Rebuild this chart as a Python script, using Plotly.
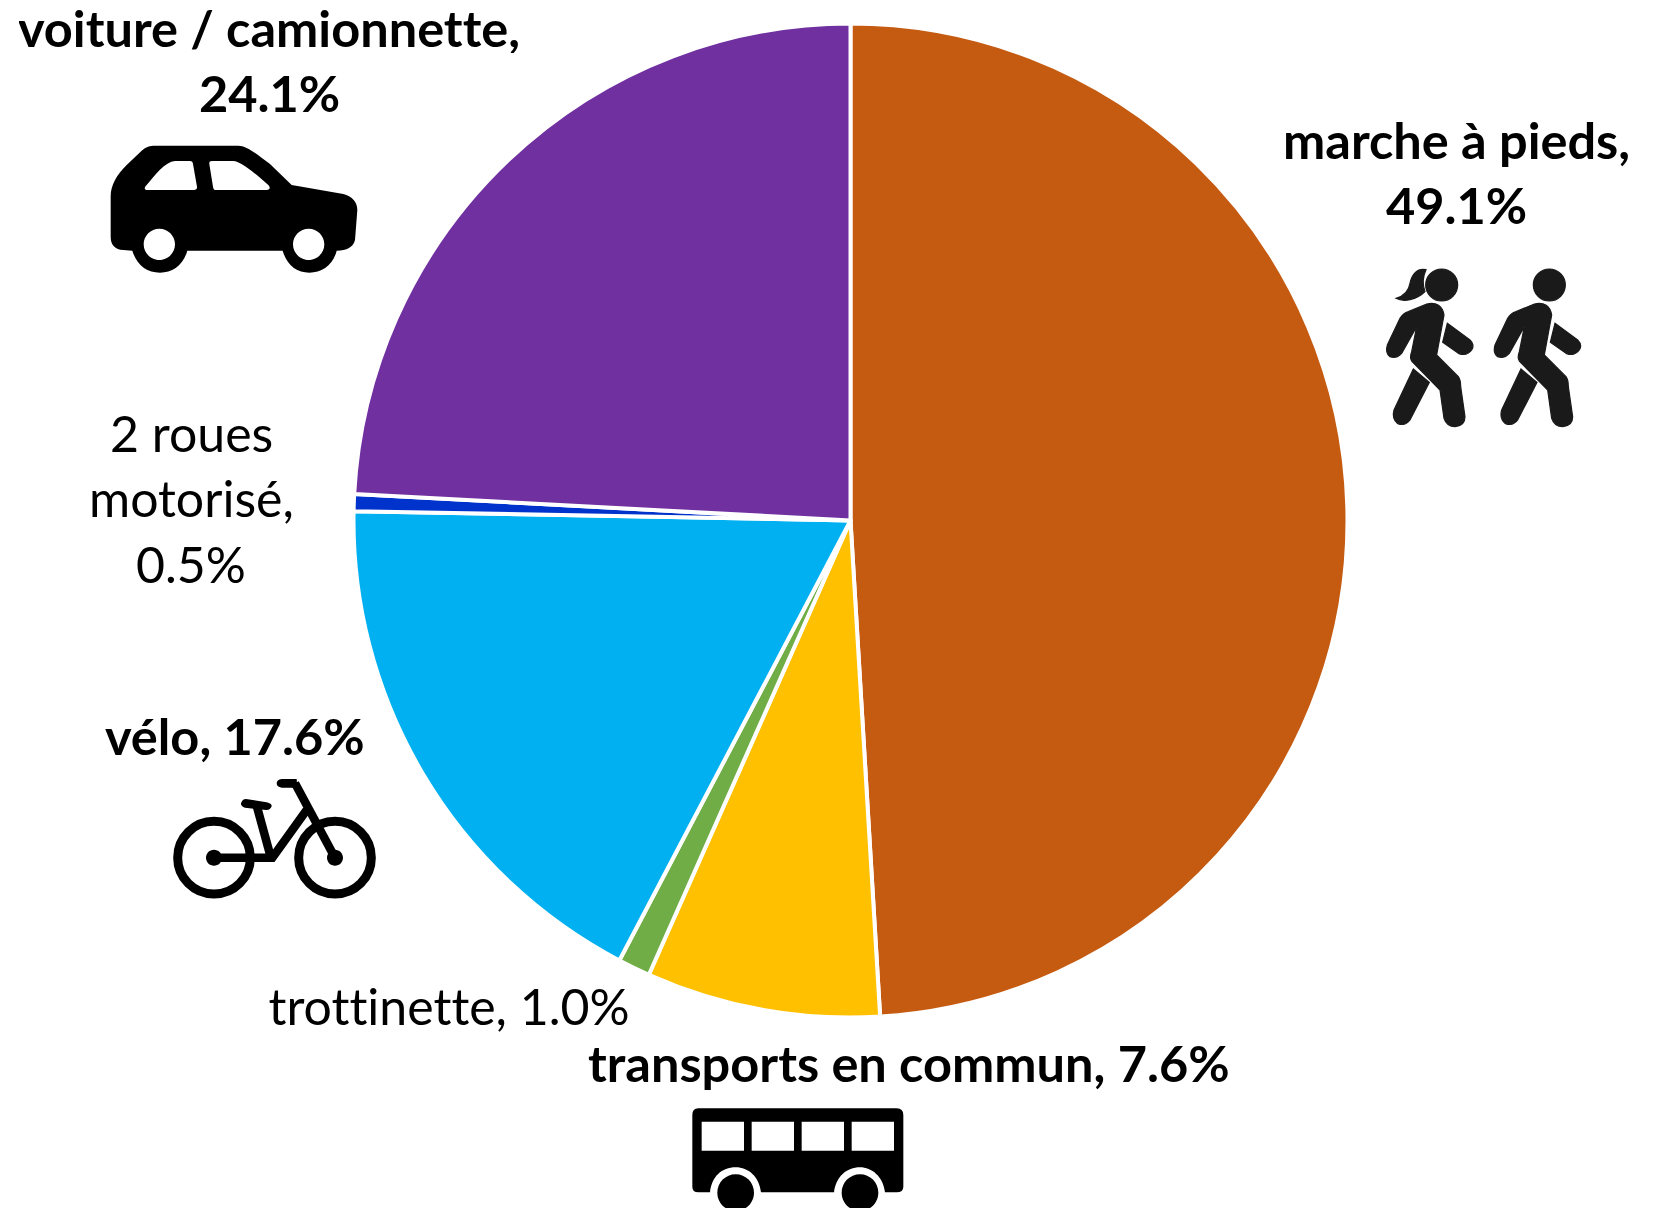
import re
import plotly.graph_objects as go

labels = ["marche à pieds", "transports en commun", "trottinette", "vélo", "2 roues motorisé", "voiture / camionnette"]
values = [49.05, 7.6, 1.05, 17.6, 0.55, 24.15]
colors = ["#C55A11", "#FFC000", "#70AD47", "#00B0F0", "#0033CC", "#7030A0"]

W, H = 1658, 1208
CX, CY, R = 850.5, 520.5, 497

# label layout: text lines, x centre, y centre of each line, bold
label_lines = [
    (["marche à pieds,", "49.1%"], 1456, [139, 204], True),
    (["transports en commun, 7.6%"], 909, [1062], True),
    (["trottinette, 1.0%"], 449, [1006], False),
    (["vélo, 17.6%"], 235, [735], True),
    (["2 roues", "motorisé,", "0.5%"], 191, [433, 498, 564], False),
    (["voiture / camionnette,", "24.1%"], 269, [27, 92], True),
]


def T(path, ox, oy):
    """Map a path drawn in 3x crop units to page pixels."""
    out, i = [], 0
    for tok in re.findall(r"[A-Za-z]|-?\d+\.?\d*", path):
        if tok.isalpha():
            out.append(tok)
        else:
            out.append(f"{(ox if i % 2 == 0 else oy) + float(tok) / 3:.2f}")
            i += 1
    return " ".join(out)


def circ(cx, cy, r):
    k = 0.5523 * r
    return (f"M {cx-r},{cy} C {cx-r},{cy-k} {cx-k},{cy-r} {cx},{cy-r} "
            f"C {cx+k},{cy-r} {cx+r},{cy-k} {cx+r},{cy} "
            f"C {cx+r},{cy+k} {cx+k},{cy+r} {cx},{cy+r} "
            f"C {cx-k},{cy+r} {cx-r},{cy+k} {cx-r},{cy} Z ")


car = ("M 62,200 C 62,165 80,135 110,105 L 155,62 C 168,50 180,47 195,47 L 445,47 C 470,47 500,72 540,102 L 605,165 "
       "L 760,192 C 785,198 802,215 802,240 L 795,330 C 790,352 770,362 740,362 "
       "C 730,405 695,428 658,428 C 620,428 590,405 578,362 L 292,362 "
       "C 280,405 248,428 210,428 C 170,428 140,405 127,362 L 100,360 C 75,358 62,345 62,320 Z "
       "M 172,180 C 162,180 162,172 170,165 C 195,135 225,95 255,93 L 300,93 C 306,93 308,97 309,102 "
       "L 321,170 C 322,177 318,180 312,180 Z "
       "M 378,180 C 372,180 370,177 369,170 L 358,102 C 357,96 360,93 366,93 L 430,93 "
       "C 450,93 490,125 535,165 C 542,172 540,180 530,180 Z "
       + circ(208, 343, 47) + circ(656, 343, 47))

bus = ("M 55,55 L 650,55 Q 670,55 670,75 L 670,290 Q 670,307 650,307 L 615,307 "
       "C 610,260 575,232 540,232 C 500,232 468,260 462,307 L 243,307 C 238,260 205,232 167,232 "
       "C 125,232 95,260 90,307 L 55,307 Q 37,307 37,290 L 37,75 Q 37,55 55,55 Z "
       "M 65,95 L 192,95 L 192,182 L 65,182 Z M 215,95 L 342,95 L 342,182 L 215,182 Z "
       "M 365,95 L 492,95 L 492,182 L 365,182 Z M 515,95 L 642,95 L 642,182 L 515,182 Z "
       + circ(167, 308, 55) + circ(540, 308, 55))

walker_body = ("M 170,147 Q 215,138 222,180 L 200,300 L 265,365 Q 272,375 272,395 L 285,485 "
               "Q 285,512 255,515 Q 230,515 222,490 L 210,405 L 125,318 Q 118,308 125,290 L 140,215 "
               "L 95,295 Q 80,312 60,305 Q 45,295 52,270 L 90,190 Q 100,175 115,170 Z "
               "M 232,205 L 300,255 Q 315,270 305,285 Q 290,305 265,295 L 218,262 Z "
               "M 130,342 L 178,382 L 120,495 Q 105,515 82,505 Q 65,490 72,465 Z "
               + circ(215, 90, 48))
ponytail = ("M 168,44 C 140,38 125,60 120,85 C 115,115 95,125 78,130 C 100,142 140,135 165,110 "
            "C 158,90 158,65 168,44 Z")

bike_fill = ("M 365,42 L 410,42 L 412,68 L 365,68 Q 350,66 350,55 Q 350,44 365,42 Z "
             "M 258,102 L 320,112 Q 336,116 335,124 Q 331,136 318,135 L 255,128 Q 242,124 243,115 Q 247,102 258,102 Z "
             + circ(162, 278, 24) + circ(525, 278, 24))
bike_strokes = ["M 162,278 L 337,278 L 440,135", "M 290,122 L 330,268", "M 405,55 L 525,278"]

shapes = []


def fill(path, ox, oy, color="#000000", lw=0):
    shapes.append(dict(type="path", xref="x", yref="y", path=T(path, ox, oy),
                       fillcolor=color, line=dict(width=lw, color=color), layer="above"))


def stroke(path, ox, oy, w):
    shapes.append(dict(type="path", xref="x", yref="y", path=T(path, ox, oy),
                       fillcolor="rgba(0,0,0,0)", line=dict(color="#000000", width=w), layer="above"))


fill(car, 90, 130)
fill(bus, 680, 1090)
fill(walker_body, 1370, 255, "#1a1a1a", 1.2)
fill(ponytail, 1370, 255, "#1a1a1a", 1.2)
fill(walker_body, 1370 + 323 / 3, 255, "#1a1a1a", 1.2)
fill(bike_fill, 160, 765)
for s in bike_strokes:
    stroke(s, 160, 765, 8.5)
stroke(circ(162, 278, 109), 160, 765, 9)
stroke(circ(525, 278, 109), 160, 765, 9)

annotations = []
for lines, x, ys, bold in label_lines:
    for txt, y in zip(lines, ys):
        ann = dict(
            x=x, y=y, xref="x", yref="y", text=f"<b>{txt}</b>" if bold else txt,
            showarrow=False, xanchor="center", yanchor="middle", valign="middle",
            font=dict(family="Lato", size=50.5 if bold else 50, color="#000000"),
        )
        if y - 32 < 0:
            ann["height"] = 2 * y - 2
        annotations.append(ann)

fig = go.Figure(go.Pie(
    labels=labels, values=values, sort=False, direction="clockwise", rotation=0,
    marker=dict(colors=colors, line=dict(color="#FFFFFF", width=4)),
    textinfo="none", showlegend=False, hole=0,
    domain=dict(x=[(CX - R) / W, (CX + R) / W], y=[1 - (CY + R) / H, 1 - (CY - R) / H]),
))
fig.update_layout(
    width=W, height=H, margin=dict(l=0, r=0, t=0, b=0), autosize=False,
    paper_bgcolor="#FFFFFF", plot_bgcolor="rgba(0,0,0,0)",
    xaxis=dict(range=[0, W], visible=False, fixedrange=True),
    yaxis=dict(range=[H, 0], visible=False, fixedrange=True),
    shapes=shapes, annotations=annotations,
)
fig.write_html("out.html", config=dict(displayModeBar=False),
               post_script="document.body.style.margin='0';document.body.style.overflow='hidden';"
                           "var s=document.createElement('style');"
                           "s.textContent='svg text{font-variant-ligatures:none !important;}';"
                           "document.head.appendChild(s);")
